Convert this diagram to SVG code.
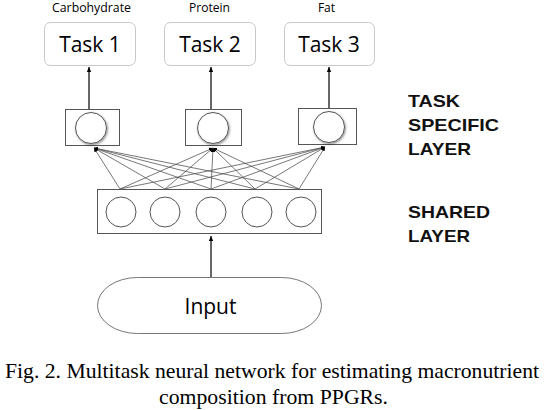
<svg xmlns="http://www.w3.org/2000/svg" width="546" height="410" viewBox="0 0 546 410">
<defs>
<marker id="ah" markerWidth="6" markerHeight="6" refX="5" refY="3" orient="auto" markerUnits="userSpaceOnUse"><path d="M0,0.8 L5,3 L0,5.2 z" fill="#000"/></marker>
<marker id="ahs" markerWidth="5" markerHeight="5" refX="4" refY="2.5" orient="auto" markerUnits="userSpaceOnUse"><path d="M0,0.5 L4,2.5 L0,4.5 z" fill="#000"/></marker>
<filter id="sh" x="-30%" y="-30%" width="160%" height="160%"><feDropShadow dx="0.8" dy="1.2" stdDeviation="0.9" flood-color="#000" flood-opacity="0.45"/></filter>
</defs>
<style>
.task{fill:#fff;stroke:#c8c8c8;stroke-width:1}
.tt{font-family:"Open Sans","Liberation Sans",sans-serif;font-size:21px;fill:#000;text-anchor:middle}
.lab{font-family:"Open Sans","Liberation Sans",sans-serif;font-size:12px;fill:#000;text-anchor:middle}
.box{fill:#fff;stroke:#555;stroke-width:1}
.node{fill:#fff;stroke:#555;stroke-width:1}
.side{font-family:"Liberation Sans",Arial,sans-serif;font-size:17px;font-weight:bold;fill:#111}
.cap{font-family:"Liberation Serif","Times New Roman",serif;font-size:22px;fill:#000}
.edge{stroke:#555;stroke-width:0.8;fill:none}
.arr{stroke:#000;stroke-width:1.2;fill:none}
</style>
<g id="connectors">
<line class="arr" x1="89" y1="109" x2="89" y2="67" marker-end="url(#ah)"/>
<line class="arr" x1="211" y1="109" x2="211" y2="67" marker-end="url(#ah)"/>
<line class="arr" x1="329" y1="108" x2="329" y2="67" marker-end="url(#ah)"/>
<line class="arr" x1="211" y1="277" x2="211" y2="236" marker-end="url(#ah)"/>
<g marker-end="url(#ahs)">
<line class="edge" x1="120" y1="189" x2="94" y2="148"/>
<line class="edge" x1="165" y1="189" x2="94" y2="148"/>
<line class="edge" x1="211" y1="189" x2="94" y2="148"/>
<line class="edge" x1="255" y1="189" x2="94" y2="148"/>
<line class="edge" x1="299" y1="189" x2="94" y2="148"/>
<line class="edge" x1="120" y1="189" x2="213" y2="148"/>
<line class="edge" x1="165" y1="189" x2="213" y2="148"/>
<line class="edge" x1="211" y1="189" x2="213" y2="148"/>
<line class="edge" x1="255" y1="189" x2="213" y2="148"/>
<line class="edge" x1="299" y1="189" x2="213" y2="148"/>
<line class="edge" x1="120" y1="189" x2="325" y2="147"/>
<line class="edge" x1="165" y1="189" x2="325" y2="147"/>
<line class="edge" x1="211" y1="189" x2="325" y2="147"/>
<line class="edge" x1="255" y1="189" x2="325" y2="147"/>
<line class="edge" x1="299" y1="189" x2="325" y2="147"/>
</g>
</g>
<g id="task1">
<text class="lab" x="91.5" y="12" textLength="79" lengthAdjust="spacingAndGlyphs">Carbohydrate</text>
<rect class="task" x="44.5" y="22.5" width="91" height="43" rx="6"/>
<text class="tt" x="90" y="52">Task 1</text>
</g>
<g id="task2">
<text class="lab" x="209.5" y="12" textLength="41" lengthAdjust="spacingAndGlyphs">Protein</text>
<rect class="task" x="164.5" y="22.5" width="91" height="43" rx="6"/>
<text class="tt" x="210" y="52">Task 2</text>
</g>
<g id="task3">
<text class="lab" x="326.5" y="12">Fat</text>
<rect class="task" x="284.5" y="22.5" width="90" height="43" rx="6"/>
<text class="tt" x="329" y="52">Task 3</text>
</g>
<g id="ts1">
<rect class="box" x="65.5" y="109.5" width="54" height="36"/>
<circle class="node" cx="91" cy="128" r="15.5" filter="url(#sh)"/>
</g>
<g id="ts2">
<rect class="box" x="185.5" y="109.5" width="56" height="36"/>
<circle class="node" cx="213" cy="128" r="15.5" filter="url(#sh)"/>
</g>
<g id="ts3">
<rect class="box" x="298.5" y="108.5" width="58" height="36"/>
<circle class="node" cx="329" cy="127" r="15.5" filter="url(#sh)"/>
</g>
<g id="shared">
<rect class="box" x="97.5" y="189.5" width="224" height="44"/>
<circle class="node" cx="121" cy="212" r="15"/>
<circle class="node" cx="165" cy="212" r="15"/>
<circle class="node" cx="211" cy="212" r="15"/>
<circle class="node" cx="257" cy="212" r="15"/>
<circle class="node" cx="301" cy="212" r="15"/>
</g>
<g id="input">
<rect x="97.5" y="277.5" width="224" height="56" rx="40" ry="28" fill="#fff" stroke="#777" stroke-width="1"/>
<text class="tt" x="210.5" y="314" font-size="22">Input</text>
</g>
<g id="labels">
<text class="side" x="408" y="107" textLength="52" lengthAdjust="spacingAndGlyphs">TASK</text>
<text class="side" x="408" y="131" textLength="91" lengthAdjust="spacingAndGlyphs">SPECIFIC</text>
<text class="side" x="408" y="155" textLength="63" lengthAdjust="spacingAndGlyphs">LAYER</text>
<text class="side" x="408" y="218" textLength="82" lengthAdjust="spacingAndGlyphs">SHARED</text>
<text class="side" x="408" y="242" textLength="62" lengthAdjust="spacingAndGlyphs">LAYER</text>
</g>
<g id="caption">
<text class="cap" x="5" y="378" textLength="534" lengthAdjust="spacingAndGlyphs">Fig. 2. Multitask neural network for estimating macronutrient</text>
<text class="cap" x="159" y="404" textLength="229" lengthAdjust="spacingAndGlyphs">composition from PPGRs.</text>
</g>
</svg>
